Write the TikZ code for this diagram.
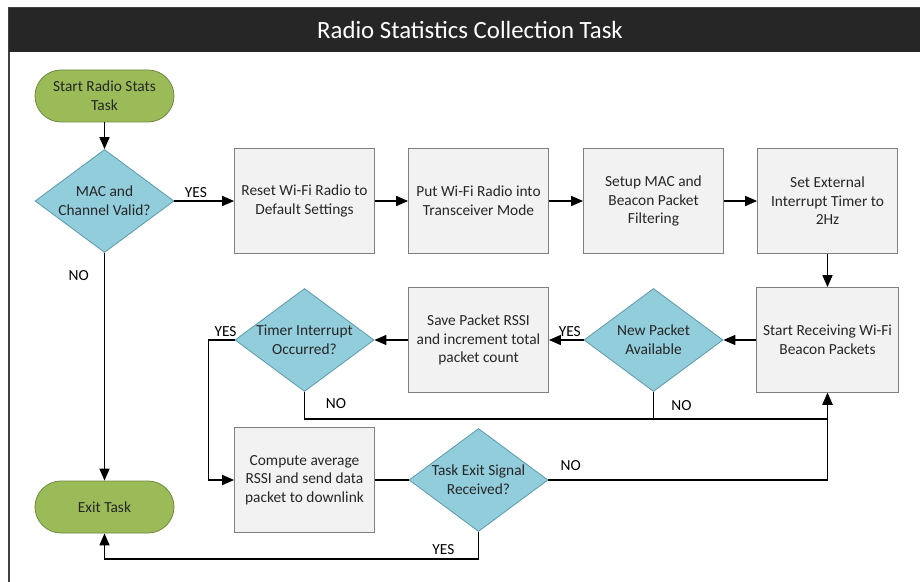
\documentclass[tikz,border=0pt]{standalone}
\usepackage{fontspec}
\setmainfont{Carlito}
\usetikzlibrary{arrows.meta,shapes.geometric,positioning}
\definecolor{bar}{HTML}{262626}
\definecolor{termfill}{HTML}{9BBB59}
\definecolor{termline}{HTML}{6E8A3E}
\definecolor{decfill}{HTML}{92CDDC}
\definecolor{decline}{HTML}{5B9AAA}
\definecolor{procfill}{HTML}{F2F2F2}
\definecolor{procline}{HTML}{7F7F7F}
\tikzset{
    terminal/.style = {rectangle,
                    rounded corners=13pt,
                    fill=termfill,
                    draw=termline,
                    text=black!85,
                    align=center,
                    minimum width=69.5pt,
                    minimum height=26pt},
    decision/.style = {diamond,
                    aspect=1.35,
                    fill=decfill,
                    draw=decline,
                    text=black!85,
                    align=center,
                    inner sep=0pt,
                    minimum width=69.5pt,
                    minimum height=51.5pt},
    process/.style = {rectangle,
                    fill=procfill,
                    draw=procline,
                    text=black!85,
                    align=center,
                    minimum width=70pt,
                    minimum height=52.5pt},
    answer/.style = {text=black,
                    inner sep=1.5pt},
    -,
    >={Triangle[length=6pt,width=5pt]},
    node distance=87pt}

\begin{document}
\begin{tikzpicture}[x=0.5pt,y=-0.5pt,font=\fontsize{7.7}{9.3}\selectfont]
                \useasboundingbox (0,0) rectangle (920,582);
                \clip (0,0) rectangle (920,582);
                % frame and title bar
                \fill[white] (0,0) rectangle (920,582);
                \draw[black!75,line width=0.6pt] (9,8) rectangle (940,600);
                \fill[bar] (9,8) rectangle (940,52);
                \node[text=white,font=\fontsize{12.4}{14}\selectfont] (title) at (470,30) {Radio Statistics Collection Task};

                \node[terminal]     (start) at (104.5,96)                                     {Start Radio Stats\\Task};
                \node[decision]     (mac)      [below of=start,node distance=52.5pt]          {MAC and\\Channel Valid?};
                \node[process]      (reset)    [right of=mac,node distance=100pt]            {Reset Wi-Fi Radio to\\Default Settings};
                \node[process]      (trx)      [right of=reset]                               {Put Wi-Fi Radio into\\Transceiver Mode};
                \node[process]      (filter)   [right of=trx,node distance=87.5pt]            {Setup MAC and\\Beacon Packet\\Filtering};
                \node[process]      (timer2hz) [right of=filter]                              {Set External\\Interrupt Timer to\\2Hz};
                \node[process]      (recv)     [below of=timer2hz,node distance=69.5pt]       {Start Receiving Wi-Fi\\Beacon Packets};
                \node[decision]     (newpkt)   [left of=recv]                                 {New Packet\\Available};
                \node[process]      (save)     [left of=newpkt,node distance=87.5pt]          {Save Packet RSSI\\and increment total\\packet count};
                \node[decision]     (timerint) [left of=save]                                 {Timer Interrupt\\Occurred?};
                \node[process]      (compute)  [below of=timerint,node distance=70pt]         {Compute average\\RSSI and send data\\packet to downlink};
                \node[decision]     (exitsig)  [right of=compute]                             {Task Exit Signal\\Received?};
                \node[terminal]     (exit)     [below of=mac,node distance=153pt]             {Exit Task};

                \path [line width=0.8pt,->]  (start) edge []                                     (mac)
                                        (mac) edge []     node [answer,above,pos=0.36] {YES} (reset)
                                        (mac) edge []     node [answer,left=6pt,pos=0.1] {NO} (exit)
                                        (reset) edge []                                     (trx)
                                        (trx) edge []                                       (filter)
                                        (filter) edge []                                    (timer2hz)
                                        (timer2hz) edge []                                  (recv)
                                        (recv) edge []                                      (newpkt)
                                        (newpkt) edge []  node [answer,above,pos=0.4] {YES} (save)
                                        (save) edge []                                      (timerint);
                \draw [line width=0.8pt,->] (timerint.west) -- node [answer,above,pos=0.35] {YES} ++(-26,0) |- (compute.west);
                \draw [line width=0.8pt,->] (timerint.south) -- ++(0,27) -| node [answer,above=3pt,pos=0.03] {NO} (recv.south);
                \draw [line width=0.8pt]    (newpkt.south) -- node [answer,right=7pt] {NO} ++(0,27);
                \draw [line width=0.8pt]    (compute) -- (exitsig);
                \draw [line width=0.8pt,->] (exitsig.east) -| node [answer,above=3pt,pos=0.04] {NO} (recv.south);
                \draw [line width=0.8pt,->] (exitsig.south) -- ++(0,27) -| node [answer,above,pos=0.047] {YES} (exit.south);
        \end{tikzpicture}
\end{document}
